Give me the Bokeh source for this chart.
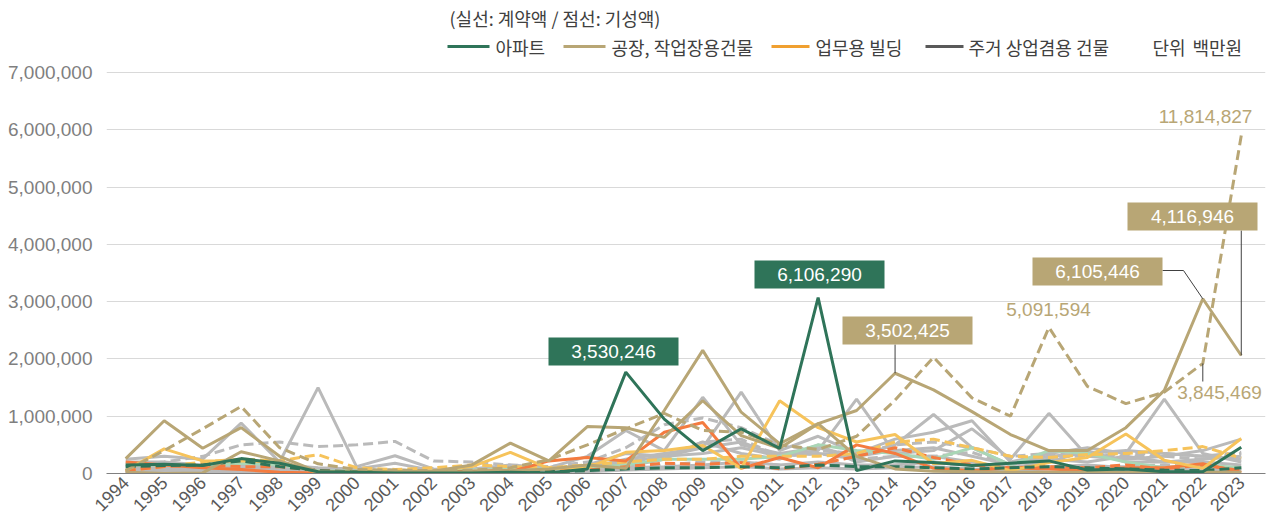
import math
from bokeh.plotting import figure
from bokeh.models import Range1d, FixedTicker, NumeralTickFormatter, Label
from bokeh.embed import file_html
from bokeh.resources import INLINE

# ---------------- data (values in millions of axis units) ----------------
years = list(range(1994, 2024))
SCALE = 1_000_000

apt_contract = [0.15, 0.16, 0.14, 0.26, 0.18, 0.03, 0.02, 0.01, 0.01, 0.01,
                0.02, 0.01, 0.08, 1.77, 0.95, 0.40, 0.78, 0.44, 3.07, 0.05,
                0.22, 0.19, 0.14, 0.18, 0.22, 0.06, 0.08, 0.03, 0.03, 0.46]
apt_done = [0.12, 0.14, 0.15, 0.22, 0.12, 0.05, 0.03, 0.02, 0.02, 0.02,
            0.03, 0.03, 0.05, 0.08, 0.10, 0.10, 0.12, 0.10, 0.15, 0.12,
            0.12, 0.10, 0.08, 0.10, 0.12, 0.10, 0.08, 0.06, 0.05, 0.10]
factory_contract = [0.02, 0.00, 0.01, 0.38, 0.22, 0.02, 0.02, 0.01, 0.02, 0.03,
                    0.05, 0.08, 0.15, 0.09, 1.10, 2.15, 1.07, 0.52, 0.87, 1.10,
                    1.75, 1.46, 1.08, 0.68, 0.40, 0.40, 0.80, 1.45, 3.05, 2.06]
workshop_contract = [0.26, 0.92, 0.44, 0.80, 0.30, 0.03, 0.02, 0.02, 0.04, 0.15,
                     0.53, 0.22, 0.82, 0.80, 0.63, 1.27, 0.66, 0.44, 0.87, 0.30,
                     0.08, 0.04, 0.03, 0.02, 0.02, 0.02, 0.02, 0.02, 0.02, 0.02]
factory_done = [0.05, 0.40, 0.78, 1.17, 0.45, 0.17, 0.07, 0.06, 0.05, 0.06,
                0.10, 0.24, 0.50, 0.78, 1.05, 0.75, 0.72, 0.50, 0.42, 0.65,
                1.28, 2.03, 1.32, 1.00, 2.55, 1.52, 1.22, 1.42, 1.92, 5.90]
office_contract = [0.05, 0.43, 0.22, 0.22, 0.20, 0.02, 0.03, 0.04, 0.05, 0.12,
                   0.37, 0.09, 0.10, 0.37, 0.40, 0.49, 0.09, 1.27, 0.80, 0.55,
                   0.68, 0.17, 0.23, 0.05, 0.19, 0.28, 0.69, 0.23, 0.09, 0.61]
office_done = [0.05, 0.12, 0.20, 0.25, 0.22, 0.33, 0.10, 0.07, 0.10, 0.15,
               0.12, 0.10, 0.15, 0.20, 0.25, 0.25, 0.30, 0.30, 0.30, 0.35,
               0.55, 0.60, 0.45, 0.30, 0.28, 0.33, 0.35, 0.40, 0.47, 0.27]
retail_contract = [0.20, 0.15, 0.10, 0.07, 0.02, 0.01, 0.01, 0.01, 0.01, 0.01,
                   0.03, 0.22, 0.28, 0.22, 0.72, 0.89, 0.09, 0.28, 0.10, 0.50,
                   0.35, 0.09, 0.05, 0.10, 0.08, 0.05, 0.10, 0.10, 0.17, 0.02]
retail_done = [0.05, 0.12, 0.15, 0.12, 0.12, 0.05, 0.03, 0.03, 0.03, 0.04,
               0.05, 0.05, 0.06, 0.12, 0.18, 0.16, 0.19, 0.08, 0.16, 0.30,
               0.45, 0.28, 0.15, 0.10, 0.12, 0.10, 0.15, 0.08, 0.15, 0.05]
mint_contract = [0.15, 0.15, 0.12, 0.18, 0.15, 0.05, 0.04, 0.04, 0.04, 0.06,
                 0.08, 0.08, 0.10, 0.15, 0.25, 0.25, 0.25, 0.30, 0.50, 0.40,
                 0.35, 0.25, 0.45, 0.15, 0.40, 0.35, 0.20, 0.10, 0.15, 0.10]

gray_solid = [
    [0.25, 0.30, 0.25, 0.88, 0.20, 1.50, 0.12, 0.31, 0.08, 0.05,
     0.10, 0.08, 0.15, 0.35, 0.30, 0.45, 0.55, 0.30, 0.35, 0.30,
     0.40, 0.45, 0.30, 0.15, 0.25, 0.20, 0.30, 0.20, 0.25, 0.30],
    [0.20, 0.20, 0.15, 0.20, 0.15, 0.10, 0.08, 0.18, 0.05, 0.08,
     0.15, 0.10, 0.30, 0.75, 0.40, 1.33, 0.50, 0.35, 0.45, 0.30,
     0.50, 1.03, 0.45, 0.15, 0.30, 0.35, 0.40, 0.35, 0.30, 0.25],
    [0.10, 0.12, 0.10, 0.15, 0.12, 0.05, 0.05, 0.06, 0.04, 0.05,
     0.08, 0.06, 0.10, 0.25, 0.35, 0.45, 1.42, 0.40, 0.65, 0.35,
     0.60, 0.72, 0.92, 0.20, 0.35, 0.45, 0.35, 1.30, 0.35, 0.20],
    [0.08, 0.10, 0.12, 0.10, 0.10, 0.05, 0.04, 0.05, 0.03, 0.04,
     0.06, 0.05, 0.08, 0.20, 0.30, 0.35, 0.45, 0.30, 0.40, 1.30,
     0.35, 0.40, 0.78, 0.25, 1.05, 0.30, 0.25, 0.30, 0.40, 0.60],
    [0.05, 0.08, 0.06, 0.08, 0.06, 0.03, 0.03, 0.04, 0.02, 0.03,
     0.05, 0.04, 0.06, 0.12, 0.25, 0.55, 0.35, 0.25, 0.50, 0.20,
     0.30, 0.30, 0.20, 0.10, 0.20, 0.40, 0.20, 0.20, 0.20, 0.15],
    [0.03, 0.05, 0.04, 0.05, 0.04, 0.02, 0.02, 0.02, 0.02, 0.02,
     0.03, 0.03, 0.05, 0.10, 0.12, 0.15, 0.20, 0.15, 0.20, 0.15,
     0.15, 0.20, 0.15, 0.08, 0.12, 0.15, 0.10, 0.12, 0.10, 0.08],
    [0.02, 0.03, 0.03, 0.04, 0.03, 0.01, 0.01, 0.01, 0.01, 0.01,
     0.02, 0.02, 0.03, 0.06, 0.08, 0.10, 0.12, 0.08, 0.10, 0.08,
     0.10, 0.12, 0.08, 0.05, 0.08, 0.10, 0.06, 0.08, 0.07, 0.05],
]
gray_dashed = [
    [0.15, 0.20, 0.30, 0.50, 0.55, 0.47, 0.50, 0.56, 0.22, 0.20,
     0.15, 0.12, 0.20, 0.45, 0.85, 0.97, 0.80, 0.50, 0.40, 0.35,
     0.50, 0.55, 0.45, 0.30, 0.35, 0.30, 0.35, 0.35, 0.30, 0.37],
    [0.05, 0.08, 0.10, 0.12, 0.10, 0.08, 0.06, 0.06, 0.05, 0.05,
     0.06, 0.08, 0.10, 0.20, 0.30, 0.55, 0.60, 0.30, 0.35, 0.25,
     0.30, 0.30, 0.37, 0.15, 0.30, 0.30, 0.30, 0.30, 0.25, 0.35],
    [0.02, 0.04, 0.05, 0.06, 0.05, 0.03, 0.03, 0.03, 0.02, 0.02,
     0.04, 0.05, 0.06, 0.10, 0.15, 0.20, 0.20, 0.15, 0.15, 0.12,
     0.15, 0.18, 0.15, 0.10, 0.12, 0.12, 0.12, 0.15, 0.12, 0.10],
]

legend_title = "(실선: 계약액 / 점선: 기성액)"
legend_names = ["아파트", "공장, 작업장용건물", "업무용 빌딩", "주거 상업겸용 건물"]
unit_words = ["단위", "백만원"]

# ---------------- colours / styles ----------------
GREEN = "#2f7459"
TAN = "#b8a675"
YELLOW = "#f6c35b"
ORANGE = "#f47b3f"
MINT = "#a9d6b6"
GRAY = "#bababa"
LEG_ORANGE = "#f0a030"
LEG_GRAY = "#595959"
DASH = "10 5"
NUM_FONT = "Liberation Sans"
KR_FONT = "Noto Sans CJK KR"

# ---------------- geometry (page has no margin) ----------------
W, H = 1278, 520
FL, FR, FB = 106, 1265, 473          # frame left/right/bottom in px
PX_YEAR = (1260 - FL) / 30.0
PX_PER_7M = 401.0
Y_TOP = 7e6 * FB / PX_PER_7M
X_END = 2023.5 + (FR - 1260) / PX_YEAR


def X(px):  # pixel -> data x (annotation placement only)
    return 1993.5 + (px - FL) / PX_YEAR


def Y(py):  # pixel -> data y
    return (FB - py) / PX_PER_7M * 7e6


def sc(vals):
    return [v * SCALE for v in vals]


p = figure(width=W, height=H, x_range=Range1d(1993.5, X_END),
           y_range=Range1d(0, Y_TOP), output_backend="svg",
           toolbar_location=None, min_border_left=FL, min_border_right=W - FR,
           min_border_top=0, min_border_bottom=H - FB)
p.outline_line_color = None
p.xgrid.visible = False

p.yaxis.ticker = FixedTicker(ticks=[i * 1_000_000 for i in range(8)])
p.yaxis.formatter = NumeralTickFormatter(format="0,0")
p.yaxis.axis_line_color = None
p.yaxis.major_tick_line_color = None
p.yaxis.minor_tick_line_color = None
p.yaxis.major_tick_out = 0
p.yaxis.major_tick_in = 0
p.yaxis.major_label_standoff = 14
p.yaxis.major_label_text_font = NUM_FONT
p.yaxis.major_label_text_font_size = "19px"
p.yaxis.major_label_text_color = "#7f7f7f"
p.ygrid.grid_line_color = "#d9d9d9"
p.ygrid.grid_line_width = 1

p.xaxis.ticker = FixedTicker(ticks=years)
p.xaxis.major_label_orientation = math.pi / 4
p.xaxis.axis_line_color = "#808080"
p.xaxis.major_tick_line_color = None
p.xaxis.minor_tick_line_color = None
p.xaxis.major_tick_out = 0
p.xaxis.major_tick_in = 0
p.xaxis.major_label_standoff = 6
p.xaxis.major_label_text_font = NUM_FONT
p.xaxis.major_label_text_font_size = "18px"
p.xaxis.major_label_text_color = "#595959"

# ---------------- background lines ----------------
for s in gray_dashed:
    p.line(years, sc(s), line_width=3, color=GRAY, line_dash=DASH)
for s in gray_solid:
    p.line(years, sc(s), line_width=3, color=GRAY)
p.line(years, sc(mint_contract), line_width=3, color=MINT)

# ---------------- highlighted lines ----------------
p.line(years, sc(office_done), line_width=3, color=YELLOW, line_dash=DASH)
p.line(years, sc(retail_done), line_width=3, color=ORANGE, line_dash=DASH)
p.line(years, sc(retail_contract), line_width=3, color=ORANGE)
p.line(years, sc(office_contract), line_width=3, color=YELLOW)
p.line(years, sc(apt_done), line_width=3, color=GREEN, line_dash=DASH)
p.line(years, sc(workshop_contract), line_width=3, color=TAN)
p.line(years, sc(factory_done), line_width=3, color=TAN, line_dash=DASH)
p.line(years, sc(factory_contract), line_width=3, color=TAN)
p.line(years, sc(apt_contract), line_width=3, color=GREEN)

# ---------------- leader lines ----------------
LEADER = "#404040"
p.line([2014, 2014], [Y(344), factory_contract[20] * SCALE], color=LEADER, line_width=1)
p.line([X(1162), X(1183), 2022], [Y(270), Y(270), factory_contract[28] * SCALE],
       color=LEADER, line_width=1)
p.line([2023, 2023], [Y(230), factory_contract[29] * SCALE], color=LEADER, line_width=1)
p.line([2022, 2022], [factory_done[28] * SCALE, Y(381)], color=LEADER, line_width=1)

# ---------------- value boxes ----------------
boxes = [  # (center px x, center px y, text, colour)
    (613, 351, "3,530,246", GREEN),
    (819, 274, "6,106,290", GREEN),
    (907, 330, "3,502,425", TAN),
    (1097, 271, "6,105,446", TAN),
    (1192, 216, "4,116,946", TAN),
]
for cx, cy, t, c in boxes:
    p.rect(x=[X(cx)], y=[Y(cy)], width=130, height=28, width_units="screen",
           height_units="screen", fill_color=c, line_color=None)
    p.add_layout(Label(x=X(cx), y=Y(cy), text=t, text_align="center",
                       text_baseline="middle", text_font=NUM_FONT,
                       text_font_size="19px", text_color="white"))

free_labels = [
    (1205, 116, "11,814,827"),
    (1048, 309, "5,091,594"),
    (1219, 392, "3,845,469"),
]
for cx, cy, t in free_labels:
    p.add_layout(Label(x=X(cx), y=Y(cy), text=t, text_align="center",
                       text_baseline="middle", text_font=NUM_FONT,
                       text_font_size="19px", text_color=TAN))

# ---------------- legend ----------------
LEG_Y = 46
p.add_layout(Label(x=X(449), y=Y(17), text=legend_title, text_align="left",
                   text_baseline="middle", text_font=KR_FONT,
                   text_font_size="18px", text_color="#404040"))
legend_items = [  # (line start px, line end px, text px, colour)
    (447, 489, 495, GREEN),
    (563, 605, 611, TAN),
    (771, 809, 815, LEG_ORANGE),
    (925, 963, 968, LEG_GRAY),
]
for (x0, x1, xt, c), name in zip(legend_items, legend_names):
    p.segment(x0=[X(x0)], y0=[Y(LEG_Y)], x1=[X(x1)], y1=[Y(LEG_Y)],
              line_width=3, color=c)
    p.add_layout(Label(x=X(xt), y=Y(LEG_Y), text=name, text_align="left",
                       text_baseline="middle", text_font=KR_FONT,
                       text_font_size="18px", text_color="#404040"))
for xt, word in zip([1152, 1192], unit_words):
    p.add_layout(Label(x=X(xt), y=Y(LEG_Y), text=word, text_align="left",
                       text_baseline="middle", text_font=KR_FONT,
                       text_font_size="18px", text_color="#404040"))

open("out.html", "w").write(file_html(p, INLINE))
